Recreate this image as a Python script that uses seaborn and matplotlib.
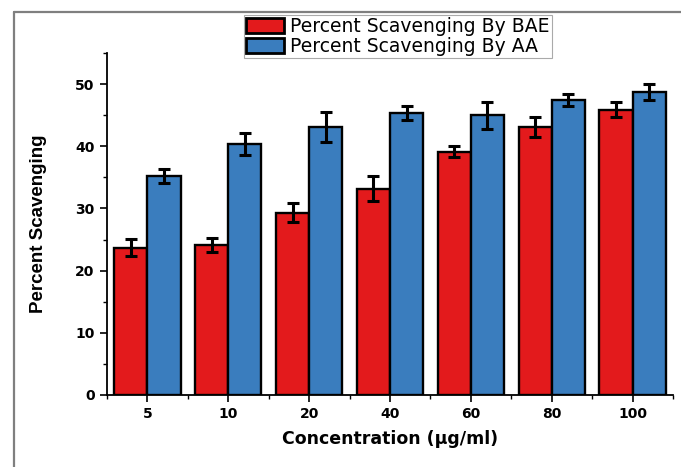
import pandas as pd
import matplotlib
matplotlib.use("Agg")
import matplotlib.pyplot as plt
from matplotlib.lines import Line2D
from matplotlib.ticker import MultipleLocator
import seaborn as sns

# values
conc = ["5", "10", "20", "40", "60", "80", "100"]
bae = [23.7, 24.1, 29.3, 33.2, 39.1, 43.1, 45.9]
bae_err = [1.4, 1.15, 1.5, 1.95, 0.9, 1.55, 1.25]
aa = [35.2, 40.4, 43.1, 45.4, 45.0, 47.4, 48.7]
aa_err = [1.1, 1.8, 2.35, 1.1, 2.15, 0.95, 1.25]

lab_bae = "Percent Scavenging By BAE"
lab_aa = "Percent Scavenging By AA"
colors = ["#E31A1C", "#3A7DBE"]

df = pd.DataFrame({
    "Concentration": conc + conc,
    "Valor": bae + aa,
    "Serie": [lab_bae] * len(conc) + [lab_aa] * len(conc),
})

sns.set_style("ticks")
plt.rcParams["font.family"] = ["DejaVu Sans"]
plt.rcParams["text.color"] = "black"
plt.rcParams["axes.labelcolor"] = "black"

fig = plt.figure(figsize=(6.81, 4.67), dpi=100)
ax = fig.add_axes([107 / 681, 72 / 467, 566 / 681, 342 / 467])

sns.barplot(data=df, x="Concentration", y="Valor", hue="Serie",
            order=conc, hue_order=[lab_bae, lab_aa], palette=colors,
            width=0.82, gap=0, errorbar=None, edgecolor="black",
            linewidth=1.7, saturation=1, ax=ax)

bar_conts = list(ax.containers)

# barras de erro nas posicoes das barras
for cont, err in zip(bar_conts, [bae_err, aa_err]):
    xs = [p.get_x() + p.get_width() / 2 for p in cont]
    ys = [p.get_height() for p in cont]
    ax.errorbar(xs, ys, yerr=err, fmt="none", ecolor="black",
                elinewidth=2.2, capsize=4.5, capthick=2.2, zorder=5)

ax.set_xlim(-0.5, 6.5)
ax.set_ylim(0, 55)
ax.yaxis.set_major_locator(MultipleLocator(10))
ax.yaxis.set_minor_locator(MultipleLocator(5))
ax.set_xticks(range(len(conc)))
ax.set_xticks([i + 0.5 for i in range(-1, len(conc))], minor=True)
ax.set_xticklabels(conc)

sns.despine(ax=ax)
for s in ["left", "bottom"]:
    ax.spines[s].set_linewidth(1.3)
    ax.spines[s].set_color("black")
ax.tick_params(which="major", direction="out", length=5, width=1.2,
               colors="black", labelsize=10, pad=4)
ax.tick_params(which="minor", direction="out", length=3, width=1.0,
               colors="black")
for t in ax.get_xticklabels() + ax.get_yticklabels():
    t.set_fontweight("bold")

ax.set_xlabel("Concentration (μg/ml)", fontsize=12.5, fontweight="bold",
              labelpad=6)
ax.set_ylabel("Percent Scavenging", fontsize=13.5, fontweight="bold",
              family="Liberation Sans", labelpad=20)

ax.get_legend().remove()
handles = [c.patches[0] for c in bar_conts]
leg = fig.legend(handles, [lab_bae, lab_aa], loc="upper center",
                 bbox_to_anchor=(398 / 681, 1 - 15 / 467), fontsize=13.5,
                 frameon=True, fancybox=False, framealpha=1,
                 edgecolor="#aaaaaa", borderpad=0.1, labelspacing=0.05,
                 handlelength=2.0, handleheight=0.9, handletextpad=0.35,
                 borderaxespad=0)
leg.get_frame().set_linewidth(0.8)
for h in leg.legend_handles:
    h.set_edgecolor("black")
    h.set_linewidth(2)

# moldura cinza
fig.add_artist(Line2D([14 / 681, 14 / 681], [0, 1 - 12 / 467],
                      transform=fig.transFigure, color="#7f7f7f", lw=1.6))
fig.add_artist(Line2D([14 / 681, 1], [1 - 12 / 467, 1 - 12 / 467],
                      transform=fig.transFigure, color="#7f7f7f", lw=1.6))

fig.savefig("out.png", dpi=100)
